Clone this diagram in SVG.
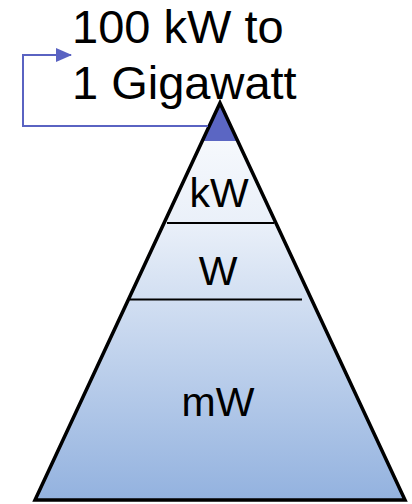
<svg xmlns="http://www.w3.org/2000/svg" width="412" height="504" viewBox="0 0 412 504">
<defs>
<linearGradient id="g" x1="0" y1="103" x2="0" y2="500" gradientUnits="userSpaceOnUse">
<stop offset="0" stop-color="#fbfcfe"/>
<stop offset="0.3" stop-color="#eaf0f9"/>
<stop offset="1" stop-color="#93b2df"/>
</linearGradient>
<marker id="arr" markerWidth="16" markerHeight="14" refX="15" refY="7" orient="auto" markerUnits="userSpaceOnUse" viewBox="0 0 16 14">
<path d="M0,0 L16,7 L0,14 z" fill="#5a63c2"/>
</marker>
<style>
.t{font-family:"Liberation Sans",Arial,sans-serif;fill:#000}
.lbl{font-size:41px;text-anchor:middle}
.ttl{font-size:47px}
.sep{stroke:#000;stroke-width:2}
</style>
</defs>
<rect width="412" height="504" fill="#fff"/>
<g id="pyramid">
<polygon points="220,103 405,500 35,500" fill="url(#g)"/>
<polygon points="220,103 237.7,141 202.3,141" fill="#5b66c3"/>
<polygon points="220,103 405,500 35,500" fill="none" stroke="#000" stroke-width="3.5" stroke-linejoin="miter"/>
</g>
<g id="layer-kW">
<line class="sep" x1="167" y1="223" x2="274" y2="223"/>
<text class="t lbl" x="219" y="207">kW</text>
</g>
<g id="layer-W">
<line class="sep" x1="130" y1="299.5" x2="302" y2="299.5"/>
<text class="t lbl" x="218" y="285">W</text>
</g>
<g id="layer-mW">
<text class="t lbl" x="218" y="416">mW</text>
</g>
<g id="label">
<text class="t ttl" x="72" y="43">100 kW to</text>
<text class="t ttl" x="72" y="99">1 Gigawatt</text>
</g>
<g id="connectors">
<polyline points="208,126 23,126 23,55 71,55" fill="none" stroke="#5a63c2" stroke-width="2" marker-end="url(#arr)"/>
</g>
</svg>
